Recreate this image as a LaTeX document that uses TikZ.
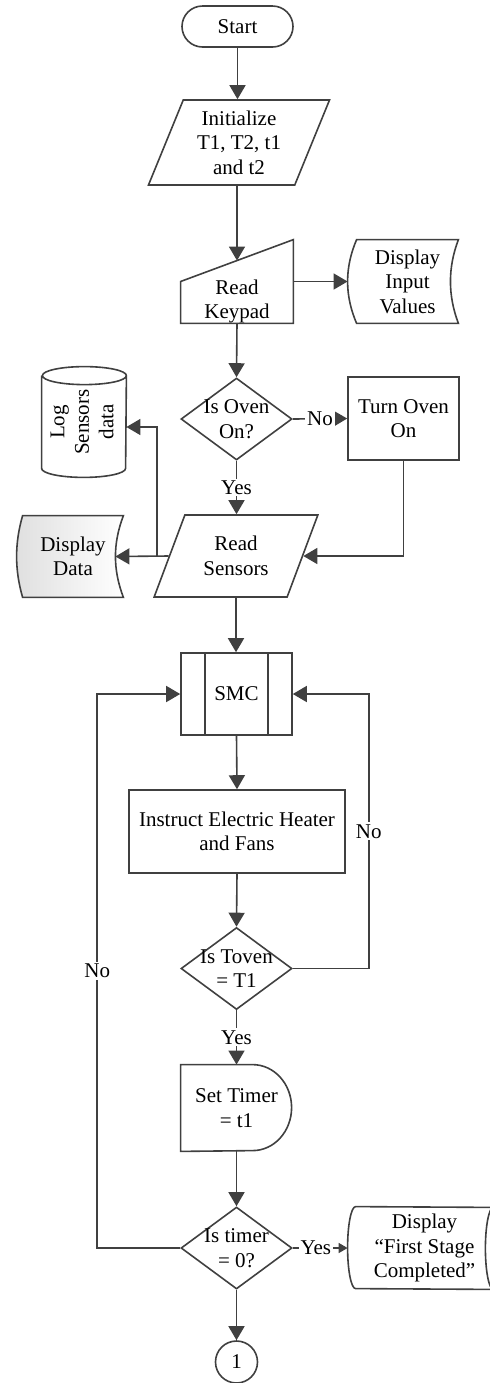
\documentclass[tikz,border=0pt]{standalone}
\usepackage{fontspec}
\setmainfont{Liberation Serif}
\usepackage{graphicx}
\usetikzlibrary{positioning,shapes.geometric,shapes.misc,arrows.meta,calc,backgrounds}
\definecolor{lncol}{HTML}{404040}

\begin{document}
\begin{tikzpicture}[x=0.5pt,y=-0.5pt,
  every node/.style={font=\fontsize{10.5}{12.2}\selectfont,align=center,inner sep=0pt},
  ln/.style={draw=lncol,line width=0.8pt},
  arr/.style={ln,-{Triangle[length=7pt,width=8pt]}},
  term/.style={rounded rectangle,ln,minimum width=55.5pt,minimum height=20.5pt},
  io/.style={trapezium,ln,trapezium stretches=true},
  proc/.style={rectangle,ln},
  sub/.style={proc,path picture={
    \draw[ln] ([xshift=12pt]path picture bounding box.north west)--([xshift=12pt]path picture bounding box.south west)
      ([xshift=-12pt]path picture bounding box.north east)--([xshift=-12pt]path picture bounding box.south east);}},
  dec/.style={diamond,ln,minimum width=55.5pt,minimum height=41pt},
  lbl/.style={fill=white,inner sep=1pt}]
\useasboundingbox (0,0) rectangle (490,1383);

\node[term] (start) at (237.5,26.5) {Start};
\node[io,trapezium left angle=67.6,trapezium right angle=112.4,minimum width=91pt,minimum height=42.5pt] (init) at (239,142.5) {Initialize\\T1, T2, t1\\and t2};

% manual input
\node[minimum width=56pt,minimum height=41.5pt,label={[yshift=-10pt]center:Read\\Keypad}] (kp) at (237,281.5) {};
\draw[ln] (kp.south west)--(kp.west)--(kp.north east)--(kp.south east)--cycle;

\node[minimum width=50.5pt,minimum height=41.5pt] (dinp) at (407.5,281.5) {Display\\Input\\Values};
\draw[ln] (dinp.north west) .. controls +(-6pt,-14pt) and +(-6pt,14pt) .. (dinp.south west)
  -- (dinp.south east) .. controls +(-5.3pt,14pt) and +(-5.3pt,-14pt) .. (dinp.north east) -- cycle;

\node[dec,label={center:Is Oven\\On?}] (d1) at (236.5,419) {};
\node[proc,minimum width=55.5pt,minimum height=41.5pt] (ron) at (403.5,418.5) {Turn Oven\\On};

% log cylinder
\node[minimum width=42pt,minimum height=46pt] (lg) at (84,422)
  {\rotatebox{90}{\begin{tabular}{@{}c@{}}Log\\Sensors\\data\end{tabular}}};
\draw[ln] (lg.north west)--(lg.south west) arc[start angle=180,end angle=360,x radius=21pt,y radius=4.5pt]
  --(lg.north east) arc[start angle=0,end angle=180,x radius=21pt,y radius=4.5pt]
  arc[start angle=180,end angle=360,x radius=21pt,y radius=4.5pt];

\node[io,trapezium left angle=63.4,trapezium right angle=116.6,minimum width=82pt,minimum height=41pt] (rs) at (236,556) {Read\\Sensors};

\node[minimum width=50pt,minimum height=40.5pt] (dd) at (73,556.5) {Display\\Data};
\begin{scope}[on background layer]
\draw[ln,left color=gray!25,right color=white] (dd.north west) .. controls +(-4pt,-14pt) and +(-4pt,14pt) .. (dd.south west)
  -- (dd.south east) .. controls +(-5.3pt,14pt) and +(-5.3pt,-14pt) .. (dd.north east) -- cycle;
\end{scope}

\node[sub,minimum width=55.5pt,minimum height=41pt] (smc) at (236.5,694) {SMC};
\node[proc,minimum width=108pt,minimum height=41.5pt] (ins) at (237,831.5) {Instruct Electric Heater\\and Fans};
\node[dec,label={center:Is Toven\\= T1}] (dt) at (236.5,968.5) {};

% delay
\node[minimum width=55.5pt,minimum height=43pt] (st) at (236.5,1108) {Set Timer\\= t1};
\draw[ln] (st.north west)--([xshift=36pt]st.north west)
  arc[start angle=90,end angle=-90,x radius=19.5pt,y radius=21.5pt]--(st.south west)--cycle;

\node[dec,label={center:Is timer\\= 0?}] (dtim) at (236.5,1248) {};

\node[minimum width=68.5pt,minimum height=41pt] (dfs) at (424.5,1248) {Display\\``First Stage\\Completed''};
\draw[ln] (dfs.north west) arc[start angle=90,end angle=270,x radius=4pt,y radius=20.5pt]
  --(dfs.south east) arc[start angle=-90,end angle=90,x radius=4pt,y radius=20.5pt]--cycle;
\draw[ln] (dfs.south east) arc[start angle=270,end angle=90,x radius=4pt,y radius=20.5pt];

\node[circle,ln,minimum size=21pt] (c1) at (236.5,1362) {1};

% connectors
\draw[arr] (start.south)--(start.south |- init.north);
\draw[arr] (kp |- init.south)--($(kp.west)!.5!(kp.north east)$);
\draw[arr] (kp.south)--(d1.north);
\draw[arr] (kp.east)--([xshift=-4.5pt]dinp.west);
\draw[arr] (d1.east)--node[lbl]{No}(ron.west);
\draw[arr] (d1.south)--node[lbl]{Yes}(d1.south |- rs.north);
\draw[arr] (ron.south)|-(rs.east);
\draw[arr] (rs.west)--([xshift=-4pt]dd.east);
\coordinate (br) at (157,556);
\draw[arr] (br)|-([yshift=-2.5pt]lg.east);
\draw[arr] (rs.south)--(rs.south |- smc.north);
\draw[arr] (smc.south)--(ins.north);
\draw[arr] (ins.south)--(dt.north);
\draw[arr] (dt.east)--++(76,0)|-node[lbl,pos=.25]{No}(smc.east);
\draw[arr] (dt.south)--node[lbl]{Yes}(st.north);
\draw[arr] (st.south)--(dtim.north);
\draw[arr] (dtim.west)--++(-83,0)|-node[lbl,pos=.25]{No}(smc.west);
\draw[ln,-{Triangle[length=4.5pt,width=5pt]}] (dtim.east)--node[lbl,pos=.42]{Yes}([xshift=-4pt]dfs.west);
\draw[arr] (dtim.south)--(c1.north);
\end{tikzpicture}
\end{document}
